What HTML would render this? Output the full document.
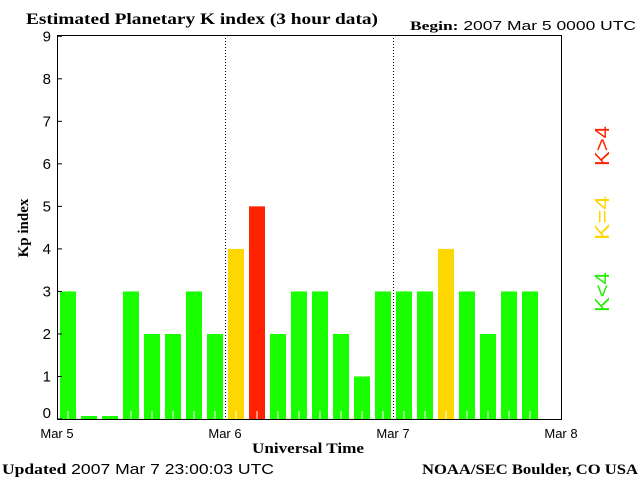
<!DOCTYPE html>
<html><head><meta charset="utf-8"><style>
body{margin:0;background:#fff;width:640px;height:480px;overflow:hidden}
svg text{font-family:"Liberation Sans",sans-serif}
.s{font-family:"Liberation Serif",serif;font-weight:bold}
</style></head><body>
<svg id="c" width="640" height="480" xmlns="http://www.w3.org/2000/svg">
<text class="s" x="26" y="24" font-size="16" textLength="352" lengthAdjust="spacingAndGlyphs">Estimated Planetary K index (3 hour data)</text>
<text x="410" y="30" font-size="13" textLength="226" lengthAdjust="spacingAndGlyphs"><tspan class="s">Begin:</tspan> 2007 Mar 5 0000 UTC</text>
<text class="s" x="28" y="228" font-size="15" transform="rotate(-90 28 228)" text-anchor="middle">Kp index</text>
<text class="s" x="308" y="453" font-size="15" text-anchor="middle" textLength="112" lengthAdjust="spacingAndGlyphs">Universal Time</text>
<text x="2" y="474" font-size="15" textLength="272" lengthAdjust="spacingAndGlyphs"><tspan class="s">Updated</tspan> 2007 Mar  7 23:00:03 UTC</text>
<text class="s" x="422" y="474" font-size="15" textLength="216" lengthAdjust="spacingAndGlyphs">NOAA/SEC Boulder, CO USA</text>
<text x="609" y="312" font-size="20" fill="#22ee00" transform="rotate(-90 609 312)" textLength="40" lengthAdjust="spacingAndGlyphs">K&lt;4</text>
<text x="609" y="240" font-size="20" fill="#ffd700" transform="rotate(-90 609 240)" textLength="44" lengthAdjust="spacingAndGlyphs">K=4</text>
<text x="609" y="166" font-size="20" fill="#ff2200" transform="rotate(-90 609 166)" textLength="40" lengthAdjust="spacingAndGlyphs">K&gt;4</text>
<g id="g"></g>
</svg>
<script>
const kpValues=[3,0,0,3,2,2,3,2,4,5,2,3,3,2,1,3,3,3,4,3,2,3,3];
const yTicks=[0,1,2,3,4,5,6,7,8,9];
const dayLabels=["Mar 5","Mar 6","Mar 7","Mar 8"];
const L=57,R=561,B=419,T=35;
const X=i=>L+i*(R-L)/24;
const Y=v=>B-v*(B-T)/9.03;
const g=document.getElementById('g');
const NS="http://www.w3.org/2000/svg";
function mk(t,a){const e=document.createElementNS(NS,t);for(const k in a)e.setAttribute(k,a[k]);g.appendChild(e);return e;}
kpValues.forEach((v,i)=>{
 const col=v<4?'#1aff00':(v==4?'#ffd700':'#ff2200');
 const h=Math.max(B-Y(v),3);
 const r=mk('rect',{x:X(i)+3,y:B-h,width:16,height:h,fill:col});
 
 
 if(v>0){const l=mk('line',{x1:X(i)+11,x2:X(i)+11,y1:B-8,y2:B,stroke:'#fff'});
 
 }
});
[1,2].forEach(d=>{const l=mk('line',{x1:X(d*8)+0.5,x2:X(d*8)+0.5,y1:T,y2:B,stroke:'#000','stroke-dasharray':'1,2'});

});
const f=mk('rect',{x:L+0.5,y:T+0.5,width:R-L,height:B-T,fill:'none',stroke:'#000'});


yTicks.forEach(v=>{const y=Y(v);
 const l=mk('line',{x1:L,x2:L+5,y1:y,y2:y,stroke:'#000'});
 
 
 const t=mk('text',{x:L-6,y:Math.min(y+5,B-1),'font-size':15,'text-anchor':'end'});t.textContent=v;
 
 });
dayLabels.forEach((s,d)=>{const t=mk('text',{x:X(d*8),y:438,'font-size':13,'text-anchor':'middle'});t.textContent=s;
 
 });
</script>
</body></html>
